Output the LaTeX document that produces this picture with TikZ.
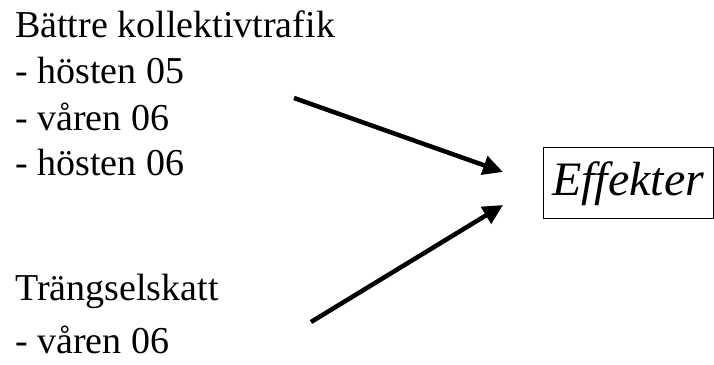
\documentclass[tikz,border=0pt]{standalone}
\usepackage{fontspec}
\setmainfont{Liberation Serif}
\usetikzlibrary{arrows.meta}
\begin{document}
\begin{tikzpicture}[x=1pt,y=-1pt,
  label/.style={anchor=base west,inner sep=0pt,font=\fontsize{38}{44}\selectfont},
  effectbox/.style={draw,line width=1pt,inner sep=0pt,minimum width=170.5pt,minimum height=71pt,
    text height=30pt,text depth=5pt,font=\fontsize{48}{54}\selectfont\itshape},
  effectarrow/.style={line width=4.5pt,-{Triangle[length=20pt,width=19pt]}}]
  \useasboundingbox (0,0) rectangle (714,364);
  % left-hand text lists
  \node[label] (kollektiv) at (15,37) {Bättre kollektivtrafik};
  \node[label] (h05) at (15,83) {- hösten 05};
  \node[label] (v06) at (15,130) {- våren 06};
  \node[label] (h06) at (15,175) {- hösten 06};
  \node[label] (trangsel) at (15,300) {Trängselskatt};
  \node[label] (tv06) at (15,353) {- våren 06};
  % result box
  \node[effectbox] (effekter) at (628.25,182.5) {Effekter};
  % arrows towards the result
  \coordinate (a1start) at (294,98);
  \coordinate (a1end) at (503,172);
  \coordinate (a2start) at (311,322);
  \coordinate (a2end) at (503,205);
  \draw[effectarrow] (a1start) -- (a1end);
  \draw[effectarrow] (a2start) -- (a2end);
\end{tikzpicture}
\end{document}
